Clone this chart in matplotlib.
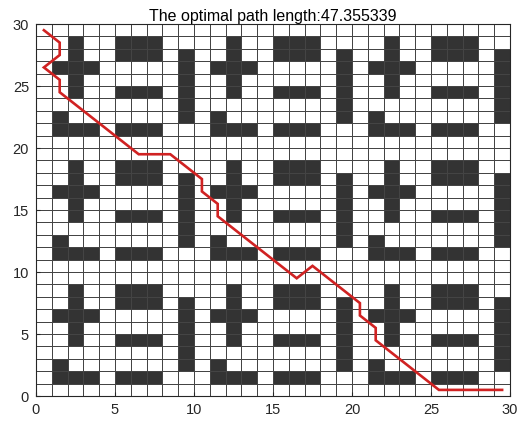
import matplotlib.pyplot as plt
import numpy as np
from matplotlib.colors import ListedColormap


OBSTACLE = "#333333"
PATH_RED = "#d02222"
TITLE = "The optimal path length:47.355339"

# occupancy map, top row (y = 29..30) first; '#' is an obstacle cell
grid_rows = [
    "..............................",
    "..#..###....#..###....#..###..",
    "..#..###.#..#..###.#..#..###.#",
    ".###.....#.###.....#.###.....#",
    "..#......#..#......#..#......#",
    "..#..###.#..#..###.#..#..###.#",
    ".........#.........#.........#",
    ".#.......#.#.......#.#.......#",
    ".###.###...###.###...###.###..",
    "..............................",
    "..............................",
    "..#..###....#..###....#..###..",
    "..#..###.#..#..###.#..#..###.#",
    ".###.....#.###.....#.###.....#",
    "..#......#..#......#..#......#",
    "..#..###.#..#..###.#..#..###.#",
    ".........#.........#.........#",
    ".#.......#.#.......#.#.......#",
    ".###.###...###.###...###.###..",
    "..............................",
    "..............................",
    "..#..###....#..###....#..###..",
    "..#..###.#..#..###.#..#..###.#",
    ".###.....#.###.....#.###.....#",
    "..#......#..#......#..#......#",
    "..#..###.#..#..###.#..#..###.#",
    ".........#.........#.........#",
    ".#.......#.#.......#.#.......#",
    ".###.###...###.###...###.###..",
    "..............................",
]

# path vertices at cell centres
path_x = [0.5, 1.5, 1.5, 0.5, 1.5, 1.5, 6.5, 8.5, 10.5, 10.5,
          11.5, 11.5, 16.5, 17.5, 20.5, 20.5, 21.5, 21.5, 25.5, 29.5]
path_y = [29.5, 28.5, 27.5, 26.5, 25.5, 24.5, 19.5, 19.5, 17.5, 16.5,
          15.5, 14.5, 9.5, 10.5, 7.5, 6.5, 5.5, 4.5, 0.5, 0.5]

axis_ticks = [0, 5, 10, 15, 20, 25, 30]


def build_map(rows):
    cells = np.array([[1 if ch == "#" else 0 for ch in row] for row in rows])
    # flip so that index 0 is the bottom row
    return cells[::-1]


def main():
    plt.rcParams["font.family"] = ["Liberation Sans", "DejaVu Sans"]

    fig = plt.figure(figsize=(5.24, 4.25), dpi=100)
    ax = fig.add_axes([0.0687, 0.068, 0.9046, 0.8755])

    cells = build_map(grid_rows)
    n_rows, n_cols = cells.shape
    ax.pcolormesh(
        np.arange(n_cols + 1),
        np.arange(n_rows + 1),
        cells,
        cmap=ListedColormap(["white", OBSTACLE]),
        vmin=0,
        vmax=1,
        edgecolors="#444444",
        linewidth=0.65,
    )

    ax.plot(path_x, path_y, color=PATH_RED, linewidth=1.9, solid_joinstyle="miter")

    ax.set_xlim(0, n_cols)
    ax.set_ylim(0, n_rows)
    ax.set_xticks(axis_ticks)
    ax.set_yticks(axis_ticks)
    ax.tick_params(direction="in", length=3, labelsize=10.5, colors="#262626", pad=5)
    for spine in ax.spines.values():
        spine.set_color("#262626")
        spine.set_linewidth(0.8)

    ax.set_title(TITLE, fontsize=11.5, pad=2, color="black")

    fig.savefig("out.png", dpi=100)
    plt.close(fig)


if __name__ == "__main__":
    main()
